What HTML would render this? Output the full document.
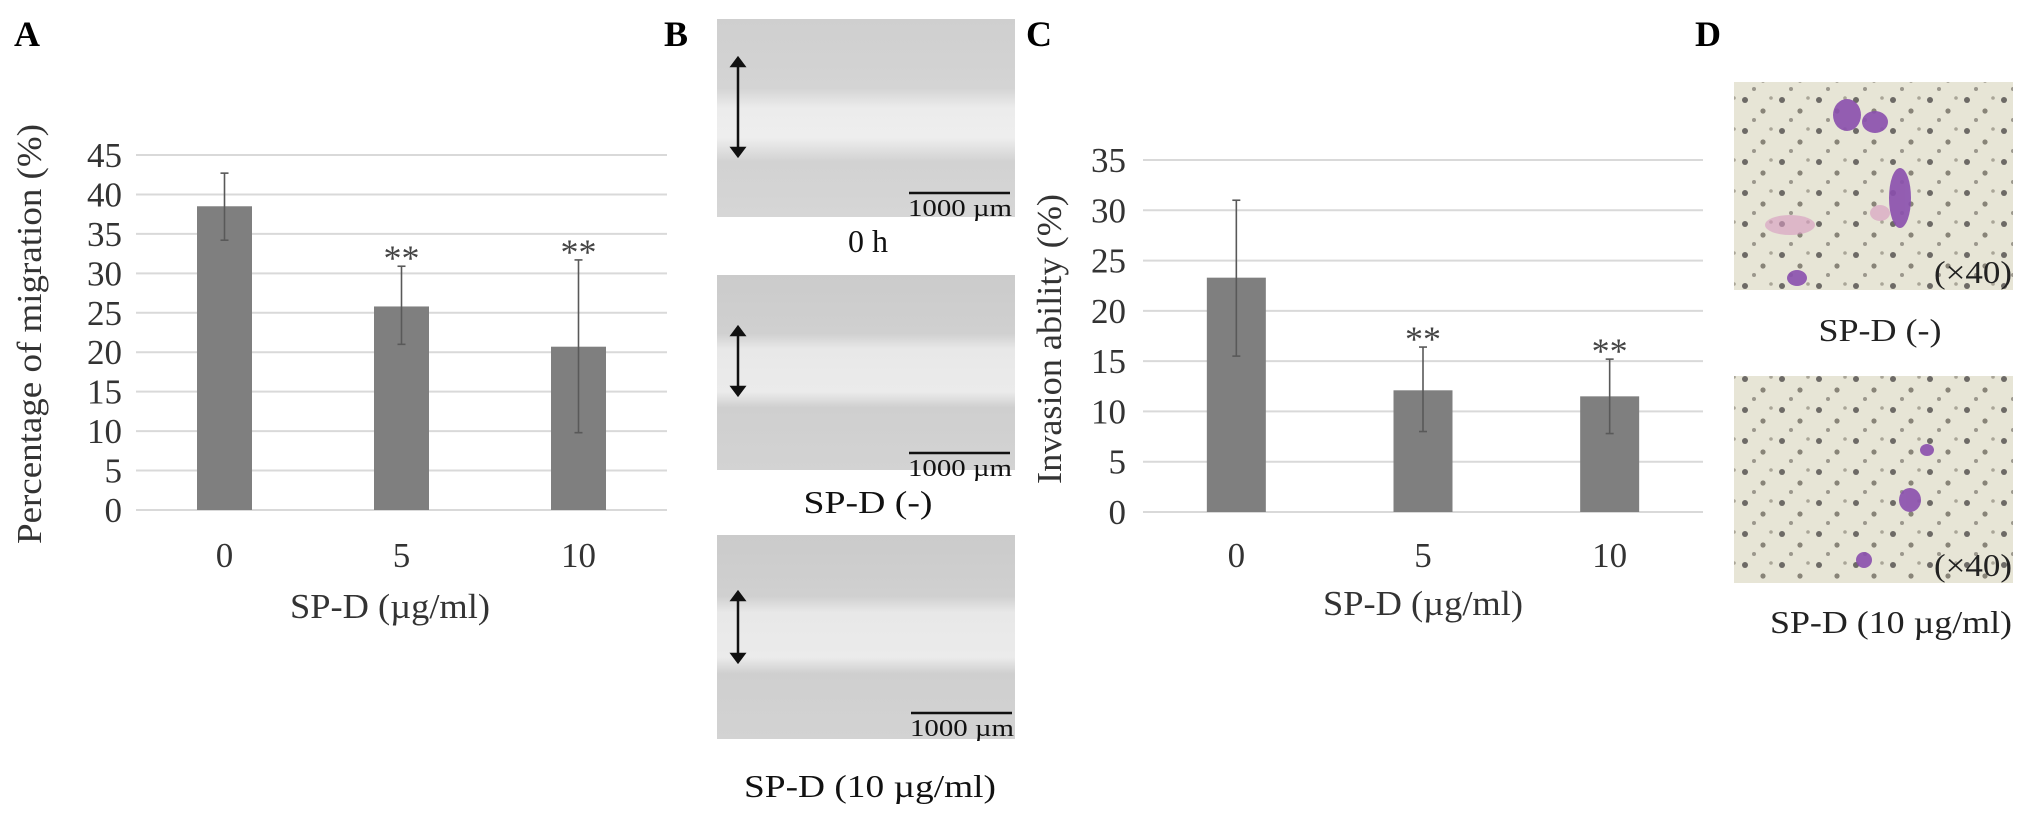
<!DOCTYPE html>
<html><head><meta charset="utf-8"><style>
html,body{margin:0;padding:0;background:#fff;}
svg{display:block;font-family:"Liberation Serif",serif;}
</style></head><body>
<svg id="fig" width="2031" height="819" viewBox="0 0 2031 819" xmlns="http://www.w3.org/2000/svg">
<defs>
<linearGradient id="scratch" x1="0" y1="0" x2="0" y2="1">
<stop offset="0" stop-color="#cfcfcf"/><stop offset="0.35" stop-color="#d4d4d4"/><stop offset="0.45" stop-color="#ececec"/><stop offset="0.6" stop-color="#eeeeee"/><stop offset="0.72" stop-color="#d2d2d2"/><stop offset="1" stop-color="#d6d6d6"/>
</linearGradient>
<linearGradient id="scratch2" x1="0" y1="0" x2="0" y2="1">
<stop offset="0" stop-color="#cbcbcb"/><stop offset="0.3" stop-color="#d0d0d0"/><stop offset="0.38" stop-color="#e8e8e8"/><stop offset="0.6" stop-color="#ebebeb"/><stop offset="0.68" stop-color="#cfcfcf"/><stop offset="1" stop-color="#d3d3d3"/>
</linearGradient>
<pattern id="cells" width="37" height="31" patternUnits="userSpaceOnUse">
<rect width="37" height="31" fill="#e7e5d6"/>
<circle cx="6" cy="7" r="3" fill="#6d6a66"/><circle cx="24" cy="18" r="2.6" fill="#888478"/><circle cx="15" cy="27" r="2" fill="#9b978c"/><circle cx="32" cy="5" r="1.8" fill="#a9a597"/>
</pattern>
</defs>

<text x="14" y="46" font-size="36" font-weight="bold">A</text>
<text x="664" y="46" font-size="36" font-weight="bold">B</text>
<text x="1026" y="46" font-size="36" font-weight="bold">C</text>
<text x="1695" y="46" font-size="36" font-weight="bold">D</text>

<g id="chartA"></g>
<g id="chartC"></g>

<g>
<rect x="717" y="19" width="298" height="198" fill="url(#scratch)"/>
<rect x="717" y="275" width="298" height="195" fill="url(#scratch2)"/>
<rect x="717" y="535" width="298" height="204" fill="url(#scratch2)"/>
<g stroke="#111" stroke-width="2.5" fill="#111">
<line x1="738" y1="64" x2="738" y2="150"/><path d="M732,66 L738,58 L744,66Z M732,148 L738,156 L744,148Z"/>
<line x1="738" y1="333" x2="738" y2="389"/><path d="M732,335 L738,327 L744,335Z M732,387 L738,395 L744,387Z"/>
<line x1="738" y1="598" x2="738" y2="656"/><path d="M732,600 L738,592 L744,600Z M732,654 L738,662 L744,654Z"/>
<line x1="909" y1="193" x2="1010" y2="193"/>
<line x1="909" y1="453" x2="1010" y2="453"/>
<line x1="911" y1="713" x2="1012" y2="713"/>
</g>
<g font-size="24" text-anchor="end" fill="#111">
<text x="1012" y="216" textLength="104" lengthAdjust="spacingAndGlyphs">1000 µm</text>
<text x="1012" y="476" textLength="104" lengthAdjust="spacingAndGlyphs">1000 µm</text>
<text x="1014" y="736" textLength="104" lengthAdjust="spacingAndGlyphs">1000 µm</text>
</g>
<g font-size="32" text-anchor="middle" fill="#111">
<text x="868" y="252">0 h</text>
<text x="868" y="513" textLength="129" lengthAdjust="spacingAndGlyphs">SP-D (-)</text>
<text x="870" y="797" textLength="252" lengthAdjust="spacingAndGlyphs">SP-D (10 µg/ml)</text>
</g>
</g>

<g>
<rect x="1734" y="82" width="279" height="208" fill="url(#cells)"/>
<rect x="1734" y="376" width="279" height="207" fill="url(#cells)"/>
<g fill="#8a4fae" opacity="0.9">
<ellipse cx="1847" cy="115" rx="14" ry="16"/><ellipse cx="1875" cy="122" rx="13" ry="11"/>
<ellipse cx="1900" cy="198" rx="11" ry="30"/><ellipse cx="1797" cy="278" rx="10" ry="8"/>
<ellipse cx="1910" cy="500" rx="11" ry="12"/><ellipse cx="1927" cy="450" rx="7" ry="6"/><ellipse cx="1864" cy="560" rx="8" ry="8"/>
</g>
<g fill="#d79ac0" opacity="0.6"><ellipse cx="1790" cy="225" rx="25" ry="10"/><ellipse cx="1880" cy="213" rx="10" ry="8"/></g>
<g font-size="32" text-anchor="end" fill="#222">
<text x="2012" y="283" textLength="78" lengthAdjust="spacingAndGlyphs">(×40)</text>
<text x="2012" y="576" textLength="78" lengthAdjust="spacingAndGlyphs">(×40)</text>
</g>
<g font-size="32" text-anchor="middle" fill="#222">
<text x="1880" y="341" textLength="123" lengthAdjust="spacingAndGlyphs">SP-D (-)</text>
<text x="1891" y="633" textLength="242" lengthAdjust="spacingAndGlyphs">SP-D (10 µg/ml)</text>
</g>
</g>
</svg>
<script>
// Panel A data
const catsA = ["0", "5", "10"];
const valsA = [38.5, 25.8, 20.7];
const errLoA = [34.2, 21.0, 9.8];
const errHiA = [42.7, 30.9, 31.7];
const sigA = ["", "**", "**"];
const ticksA = [0, 5, 10, 15, 20, 25, 30, 35, 40, 45];
// Panel C data
const catsC = ["0", "5", "10"];
const valsC = [23.3, 12.1, 11.5];
const errLoC = [15.5, 8.0, 7.8];
const errHiC = [31.0, 16.4, 15.2];
const sigC = ["", "**", "**"];
const ticksC = [0, 5, 10, 15, 20, 25, 30, 35];

const NS = "http://www.w3.org/2000/svg";
function mk(tag, attrs, parent, text) {
  const e = document.createElementNS(NS, tag);
  for (const k in attrs) e.setAttribute(k, attrs[k]);
  if (text !== undefined) e.textContent = text;
  parent.appendChild(e);
  return e;
}

function drawChart(g, cfg, cats, vals, lo, hi, sig, ticks) {
  const maxV = ticks[ticks.length - 1];
  const y = v => cfg.y0 - (v / maxV) * (cfg.y0 - cfg.yTop);
  const band = (cfg.x1 - cfg.x0) / cats.length;
  const xc = i => cfg.x0 + band * (i + 0.5);
  ticks.forEach(t => {
    const l = mk("line", {x1: cfg.x0, x2: cfg.x1, y1: y(t), y2: y(t), stroke: "#d9d9d9", "stroke-width": 2}, g);
    
    
    const tx = mk("text", {x: cfg.tickX, y: y(t) + 12, "font-size": 35, "text-anchor": "end", fill: "#333"}, g, String(t));
    
    
  });
  cats.forEach((c, i) => {
    const r = mk("rect", {x: xc(i) - cfg.bw / 2, y: y(vals[i]), width: cfg.bw, height: cfg.y0 - y(vals[i]), fill: "#7f7f7f"}, g);
    
    
    const eg = mk("g", {stroke: "#595959", "stroke-width": 1.6}, g);
    
    
    mk("line", {x1: xc(i), x2: xc(i), y1: y(lo[i]), y2: y(hi[i])}, eg);
    mk("line", {x1: xc(i) - 4, x2: xc(i) + 4, y1: y(lo[i]), y2: y(lo[i])}, eg);
    mk("line", {x1: xc(i) - 4, x2: xc(i) + 4, y1: y(hi[i]), y2: y(hi[i])}, eg);
    if (sig[i]) {
      const s = mk("text", {x: xc(i), y: y(hi[i]) + 4, "font-size": 36, "text-anchor": "middle", fill: "#444"}, g, sig[i]);
      
      
    }
    const xl = mk("text", {x: xc(i), y: cfg.xLabY, "font-size": 35, "text-anchor": "middle", fill: "#333"}, g, c);
    
    
  });
  const xt = mk("text", {x: cfg.xTitleX, y: cfg.xTitleY, "font-size": 35, "text-anchor": "middle", fill: "#333", textLength: 200, lengthAdjust: "spacingAndGlyphs"}, g, "SP-D (µg/ml)");
  
  
  const yt = mk("text", {x: 0, y: 0, "font-size": 35, "text-anchor": "middle", fill: "#333", textLength: cfg.yTitleLen, lengthAdjust: "spacingAndGlyphs",
    transform: "translate(" + cfg.yTitleX + "," + cfg.yTitleY + ") rotate(-90)"}, g, cfg.yTitle);
  
  
}

drawChart(document.getElementById("chartA"),
  {x0: 136, x1: 667, y0: 510, yTop: 155, bw: 55, tickX: 122, xLabY: 567, xTitleX: 390, xTitleY: 618,
   yTitleX: 41, yTitleY: 334, yTitleLen: 420, yTitle: "Percentage  of migration (%)"},
  catsA, valsA, errLoA, errHiA, sigA, ticksA);
drawChart(document.getElementById("chartC"),
  {x0: 1143, x1: 1703, y0: 512, yTop: 160, bw: 59, tickX: 1126, xLabY: 567, xTitleX: 1423, xTitleY: 615,
   yTitleX: 1061, yTitleY: 339, yTitleLen: 290, yTitle: "Invasion ability (%)"},
  catsC, valsC, errLoC, errHiC, sigC, ticksC);
</script>
</body></html>
